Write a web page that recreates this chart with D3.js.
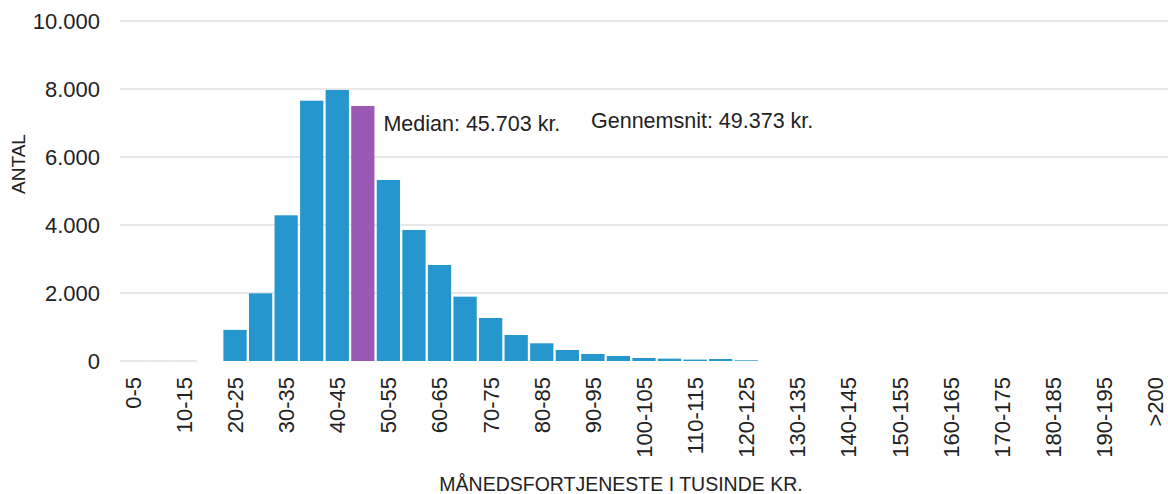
<!DOCTYPE html>
<html>
<head>
<meta charset="utf-8">
<script src="https://cdn.jsdelivr.net/npm/d3@7"></script>
<style>
  body { margin: 0; background: #fff; }
  svg { display: block; font-family: "Liberation Sans", Arial, sans-serif; }
  .grid line { stroke: #e0e0e0; stroke-width: 1.5; }
</style>
</head>
<body>
<div id="chart"></div>
<script>
// income bands (thousand kr.) and number of people in each
var categories = ["0-5","5-10","10-15","15-20","20-25","25-30","30-35","35-40","40-45","45-50",
  "50-55","55-60","60-65","65-70","70-75","75-80","80-85","85-90","90-95","95-100",
  "100-105","105-110","110-115","115-120","120-125","125-130","130-135","135-140","140-145","145-150",
  "150-155","155-160","160-165","165-170","170-175","175-180","180-185","185-190","190-195","195-200",">200"];
var counts = [null, null, null, 0, 915, 1990, 4285, 7656, 7970, 7500,
  5324, 3853, 2824, 1892, 1265, 765, 520, 324, 206, 147,
  88, 69, 42, 59, 20, 0, 0, 0, 0, 0,
  0, 0, 0, 0, 0, 0, 0, 0, 0, 0, 0];
var medianBand = "45-50";
var yTicks = [0, 2000, 4000, 6000, 8000, 10000];
var medianText = "Median: 45.703 kr.";
var meanText = "Gennemsnit: 49.373 kr.";

var width = 1168, height = 494;
var margin = {top: 21, right: 0, bottom: 133, left: 120};

var data = categories.map(function(c, i) { return {band: c, value: counts[i]}; });

var svg = d3.select("#chart").append("svg")
  .attr("width", width)
  .attr("height", height);

var x = d3.scaleBand()
  .domain(categories)
  .range([margin.left, width - margin.right])
  .paddingInner(0.09)
  .paddingOuter(0.045);

var y = d3.scaleLinear()
  .domain([0, 10000])
  .range([height - margin.bottom, margin.top]);

var locale = d3.formatLocale({decimal: ",", thousands: ".", grouping: [3], currency: ["", " kr."]});
var fmt = locale.format(",d");

// gridlines (the zero line only shows where there are no bars)
var grid = svg.append("g").attr("class", "grid");
grid.selectAll("line.h")
  .data(yTicks.filter(function(t) { return t > 0; }))
  .enter().append("line")
  .attr("x1", margin.left)
  .attr("x2", width - margin.right)
  .attr("y1", function(d) { return y(d); })
  .attr("y2", function(d) { return y(d); });
grid.selectAll("line.z")
  .data(data.filter(function(d) { return d.value === null; }))
  .enter().append("line")
  .attr("x1", function(d) { return x(d.band) - x.step() * x.paddingInner() / 2; })
  .attr("x2", function(d) { return x(d.band) + x.bandwidth() + x.step() * x.paddingInner() / 2; })
  .attr("y1", y(0))
  .attr("y2", y(0));

// bars
svg.append("g").selectAll("rect")
  .data(data.filter(function(d) { return d.value; }))
  .enter().append("rect")
  .attr("x", function(d) { return x(d.band); })
  .attr("width", x.bandwidth())
  .attr("y", function(d) { return y(d.value); })
  .attr("height", function(d) { return y(0) - y(d.value); })
  .attr("fill", function(d) { return d.band === medianBand ? "#9b59b6" : "#2596ce"; });

// y axis
var yAxis = svg.append("g")
  .attr("transform", "translate(" + margin.left + ",0)")
  .call(d3.axisLeft(y).tickValues(yTicks).tickFormat(fmt).tickSize(0).tickPadding(20));
yAxis.select(".domain").remove();
yAxis.selectAll("text")
  .attr("font-size", "22px")
  .attr("font-family", "'Liberation Sans', Arial, sans-serif")
  .attr("fill", "#222");

// x axis, every other band labelled
var xAxis = svg.append("g")
  .attr("transform", "translate(0," + y(0) + ")")
  .call(d3.axisBottom(x)
    .tickValues(categories.filter(function(c, i) { return i % 2 === 0; }))
    .tickSize(0));
xAxis.select(".domain").remove();
xAxis.selectAll("text")
  .attr("transform", "rotate(-90)")
  .attr("x", -16)
  .attr("y", 0)
  .attr("dy", "0.36em")
  .attr("text-anchor", "end")
  .attr("font-size", "22px")
  .attr("font-family", "'Liberation Sans', Arial, sans-serif")
  .attr("fill", "#222");

// axis titles
svg.append("text")
  .attr("transform", "translate(25,164) rotate(-90)")
  .attr("text-anchor", "middle")
  .attr("font-size", "19px")
  .attr("fill", "#222")
  .text("ANTAL");

svg.append("text")
  .attr("x", 621)
  .attr("y", 491)
  .attr("text-anchor", "middle")
  .attr("font-size", "19.5px")
  .attr("fill", "#222")
  .text("MÅNEDSFORTJENESTE I TUSINDE KR.");

// median / mean notes
svg.append("text")
  .attr("x", x(medianBand) + x.bandwidth() + 9)
  .attr("y", 131)
  .attr("font-size", "21.5px")
  .attr("fill", "#222")
  .text(medianText);

svg.append("text")
  .attr("x", 591)
  .attr("y", 128)
  .attr("font-size", "21.5px")
  .attr("fill", "#222")
  .text(meanText);
</script>
</body>
</html>
